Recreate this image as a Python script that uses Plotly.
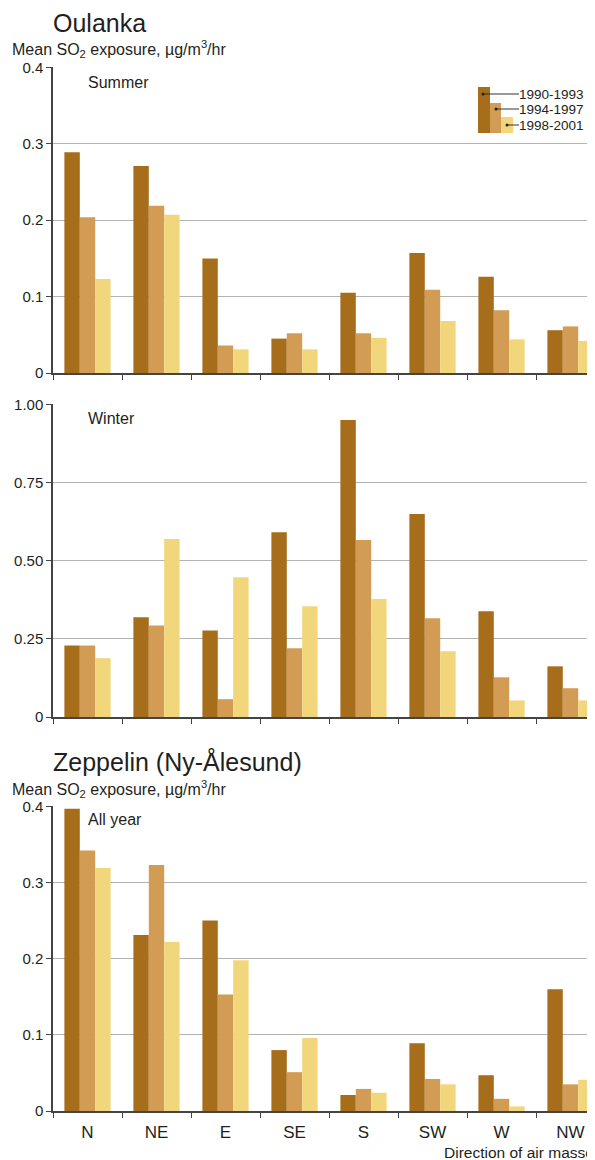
import plotly.graph_objects as go

directions = ["N", "NE", "E", "SE", "S", "SW", "W", "NW"]
periods = ["1990-1993", "1994-1997", "1998-2001"]
colors = ["#A66E1B", "#D29C54", "#F2D67B"]

# Oulanka, summer
summer_1990 = [0.289, 0.271, 0.150, 0.045, 0.105, 0.157, 0.126, 0.056]
summer_1994 = [0.204, 0.219, 0.036, 0.052, 0.052, 0.109, 0.082, 0.061]
summer_1998 = [0.123, 0.207, 0.031, 0.031, 0.046, 0.068, 0.044, 0.042]

# Oulanka, winter
winter_1990 = [0.229, 0.319, 0.277, 0.591, 0.950, 0.649, 0.338, 0.162]
winter_1994 = [0.229, 0.293, 0.057, 0.220, 0.566, 0.316, 0.127, 0.092]
winter_1998 = [0.188, 0.569, 0.447, 0.354, 0.377, 0.210, 0.053, 0.053]

# Zeppelin, all year
zep_1990 = [0.397, 0.231, 0.250, 0.080, 0.021, 0.089, 0.047, 0.160]
zep_1994 = [0.342, 0.323, 0.153, 0.051, 0.029, 0.042, 0.016, 0.035]
zep_1998 = [0.319, 0.222, 0.198, 0.096, 0.024, 0.035, 0.006, 0.041]

# the page body has an 8px margin, so the figure is drawn 8px in from the corner
OFF = 8
W, H = 595 - OFF, 1160 - OFF
FONT = "Arial, Liberation Sans, sans-serif"
TXT = "#231f20"


def px(x):
    return (x - OFF) / W


def py(y):
    return 1 - (y - OFF) / H


panels = [
    ("x", "y", [summer_1990, summer_1994, summer_1998]),
    ("x2", "y2", [winter_1990, winter_1994, winter_1998]),
    ("x3", "y3", [zep_1990, zep_1994, zep_1998]),
]

fig = go.Figure()
for xa, ya, series in panels:
    for name, vals, c in zip(periods, series, colors):
        fig.add_trace(go.Bar(x=directions, y=vals, name=name, marker_color=c,
                             marker_line_width=0, xaxis=xa, yaxis=ya,
                             showlegend=False, hoverinfo="x+y+name"))

xrange = [-0.5, 7.5 - 10 / 69]
xcommon = dict(type="category", categoryorder="array", categoryarray=directions,
               range=xrange, domain=[px(53), 1], showline=True, linecolor="#444",
               linewidth=1.5, ticks="outside", tickson="boundaries", ticklen=5,
               tickcolor="#444", showgrid=False, zeroline=False, automargin=False,
               fixedrange=True)
ycommon = dict(showline=True, linecolor="#444", linewidth=1.5, ticks="outside",
               ticklen=5, tickcolor="#444", showgrid=True, gridcolor="#b3b3b3",
               gridwidth=1, zeroline=False, automargin=False,
               tickfont=dict(size=15, color=TXT, family=FONT))

small = [0, 0.1, 0.2, 0.3, 0.4]
small_txt = ["0", "0.1", "0.2", "0.3", "0.4"]
big = [0, 0.25, 0.5, 0.75, 1.0]
big_txt = ["0", "0.25", "0.50", "0.75", "1.00"]

fig.update_layout(
    width=W, height=H,
    margin=dict(l=0, r=0, t=0, b=0),
    template="none",
    plot_bgcolor="white", paper_bgcolor="white",
    barmode="group", bargap=0.33, bargroupgap=0,
    font=dict(family=FONT, color=TXT, size=14),
    showlegend=False,
    xaxis=dict(xcommon, anchor="y", showticklabels=False),
    xaxis2=dict(xcommon, anchor="y2", showticklabels=False),
    xaxis3=dict(xcommon, anchor="y3", showticklabels=True, ticklabelstandoff=5,
                tickfont=dict(size=17, color=TXT, family=FONT)),
    yaxis=dict(ycommon, anchor="x", domain=[py(373), py(67)], range=[0, 0.4005],
               tickvals=small, ticktext=small_txt),
    yaxis2=dict(ycommon, anchor="x2", domain=[py(717), py(404)], range=[0, 1.001],
                tickvals=big, ticktext=big_txt),
    yaxis3=dict(ycommon, anchor="x3", domain=[py(1111), py(806)], range=[0, 0.4005],
                tickvals=small, ticktext=small_txt),
)

ytitle = "Mean SO<sub>2</sub> exposure, µg/m<sup>3</sup>/hr"
notes = [
    ("Oulanka", 51, 23, 25, "left"),
    (ytitle, 10, 49, 16, "left"),
    ("Summer", 86, 82, 16, "left"),
    ("Winter", 86, 418, 16, "left"),
    ("Zeppelin (Ny-Ålesund)", 51, 761, 25, "left"),
    (ytitle, 10, 789, 16, "left"),
    ("All year", 86, 819, 16, "left"),
    ("Direction of air masse", 596, 1152, 15.5, "right"),
]
for text, x, y, size, anchor in notes:
    fig.add_annotation(text=text, x=px(x), y=py(y), xref="paper", yref="paper",
                       xanchor=anchor, yanchor="middle", showarrow=False,
                       font=dict(size=size, color=TXT, family=FONT))

# hand-drawn legend (top right of the summer panel)
leg_bars = [(478, 490, 87), (490, 501, 103), (501, 513, 117)]
leg_pts = [(483, 94), (496, 109), (507, 125)]
for (x0, x1, top), c in zip(leg_bars, colors):
    fig.add_shape(type="rect", xref="paper", yref="paper", x0=px(x0), x1=px(x1),
                  y0=py(133), y1=py(top), fillcolor=c, line_width=0)
for (lx, ly), name in zip(leg_pts, periods):
    fig.add_shape(type="line", xref="paper", yref="paper", x0=px(lx), x1=px(519),
                  y0=py(ly), y1=py(ly), line=dict(color="#333", width=1))
    fig.add_shape(type="circle", xref="paper", yref="paper", x0=px(lx - 1.5),
                  x1=px(lx + 1.5), y0=py(ly + 1.5), y1=py(ly - 1.5),
                  fillcolor="#222", line_width=0)
    fig.add_annotation(text=name, x=px(517), y=py(ly), xref="paper", yref="paper",
                       xanchor="left", yanchor="middle", showarrow=False,
                       font=dict(size=13.5, color=TXT, family=FONT))

fig.write_html("out.html")
